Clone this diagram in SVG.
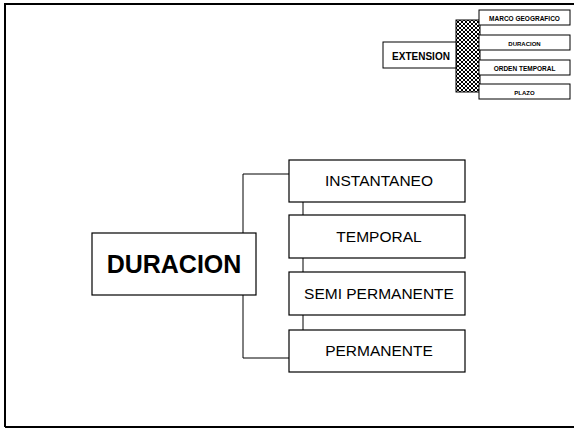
<svg xmlns="http://www.w3.org/2000/svg" width="574" height="432" viewBox="0 0 574 432">
<style>
.box{fill:#fff;stroke:#000;stroke-width:1.2}
.sbox{fill:#fff;stroke:#000;stroke-width:1}
.t{font-family:"Liberation Sans",Arial,sans-serif;fill:#000;text-anchor:middle}
.m{font-size:15.5px}
.conn{fill:none;stroke:#000;stroke-width:1}
</style>
<defs>
<pattern id="hatch" width="4" height="4" patternUnits="userSpaceOnUse">
<rect width="4" height="4" fill="#fff"/>
<path d="M0,4 L4,0 M-1,1 L1,-1 M3,5 L5,3 M0,0 L4,4 M-1,3 L1,5 M3,-1 L5,1" stroke="#000" stroke-width="1"/>
</pattern>
</defs>
<rect width="574" height="432" fill="#fff"/>
<g id="frame">
<path d="M5,427 L5,4 L574,4" fill="none" stroke="#000" stroke-width="2"/>
<path d="M5,427 L574,427" fill="none" stroke="#000" stroke-width="2"/>
</g>
<g id="connectors">
<path class="conn" d="M243,233 L243,174 L290,174"/>
<path class="conn" d="M243,295 L243,358 L290,358"/>
<path class="conn" d="M303,202 L303,215"/>
<path class="conn" d="M303,258 L303,272"/>
<path class="conn" d="M303,315 L303,330"/>
</g>
<g id="hatchbar"><rect x="456" y="20" width="24" height="72" fill="url(#hatch)" stroke="#000" stroke-width="1"/></g>
<g id="extension"><rect class="sbox" x="383" y="42" width="73" height="26"/><text class="t" x="421" y="59.5" font-size="10" font-weight="bold">EXTENSION</text></g>
<g id="marco"><rect class="sbox" x="479" y="10" width="91" height="15"/><text class="t" x="524.5" y="20.5" font-size="6.5" font-weight="bold">MARCO GEOGRAFICO</text></g>
<g id="duracion-small"><rect class="sbox" x="479" y="35" width="91" height="15"/><text class="t" x="524.5" y="45.5" font-size="6" font-weight="bold">DURACION</text></g>
<g id="orden"><rect class="sbox" x="479" y="60" width="91" height="15"/><text class="t" x="524.5" y="70.5" font-size="6.5" font-weight="bold">ORDEN TEMPORAL</text></g>
<g id="plazo"><rect class="sbox" x="479" y="84" width="91" height="15"/><text class="t" x="524.5" y="94.5" font-size="6" font-weight="bold">PLAZO</text></g>
<g id="duracion"><rect class="box" x="92" y="233" width="164" height="62"/><text class="t" x="174" y="273" font-size="25" font-weight="bold">DURACION</text></g>
<g id="instantaneo"><rect class="box" x="289" y="160" width="176" height="42"/><text class="t m" x="379" y="186">INSTANTANEO</text></g>
<g id="temporal"><rect class="box" x="289" y="215" width="176" height="43"/><text class="t m" x="379" y="242">TEMPORAL</text></g>
<g id="semi"><rect class="box" x="289" y="272" width="176" height="43"/><text class="t m" x="379" y="299">SEMI PERMANENTE</text></g>
<g id="permanente"><rect class="box" x="289" y="330" width="176" height="42"/><text class="t m" x="379" y="356">PERMANENTE</text></g>
</svg>
